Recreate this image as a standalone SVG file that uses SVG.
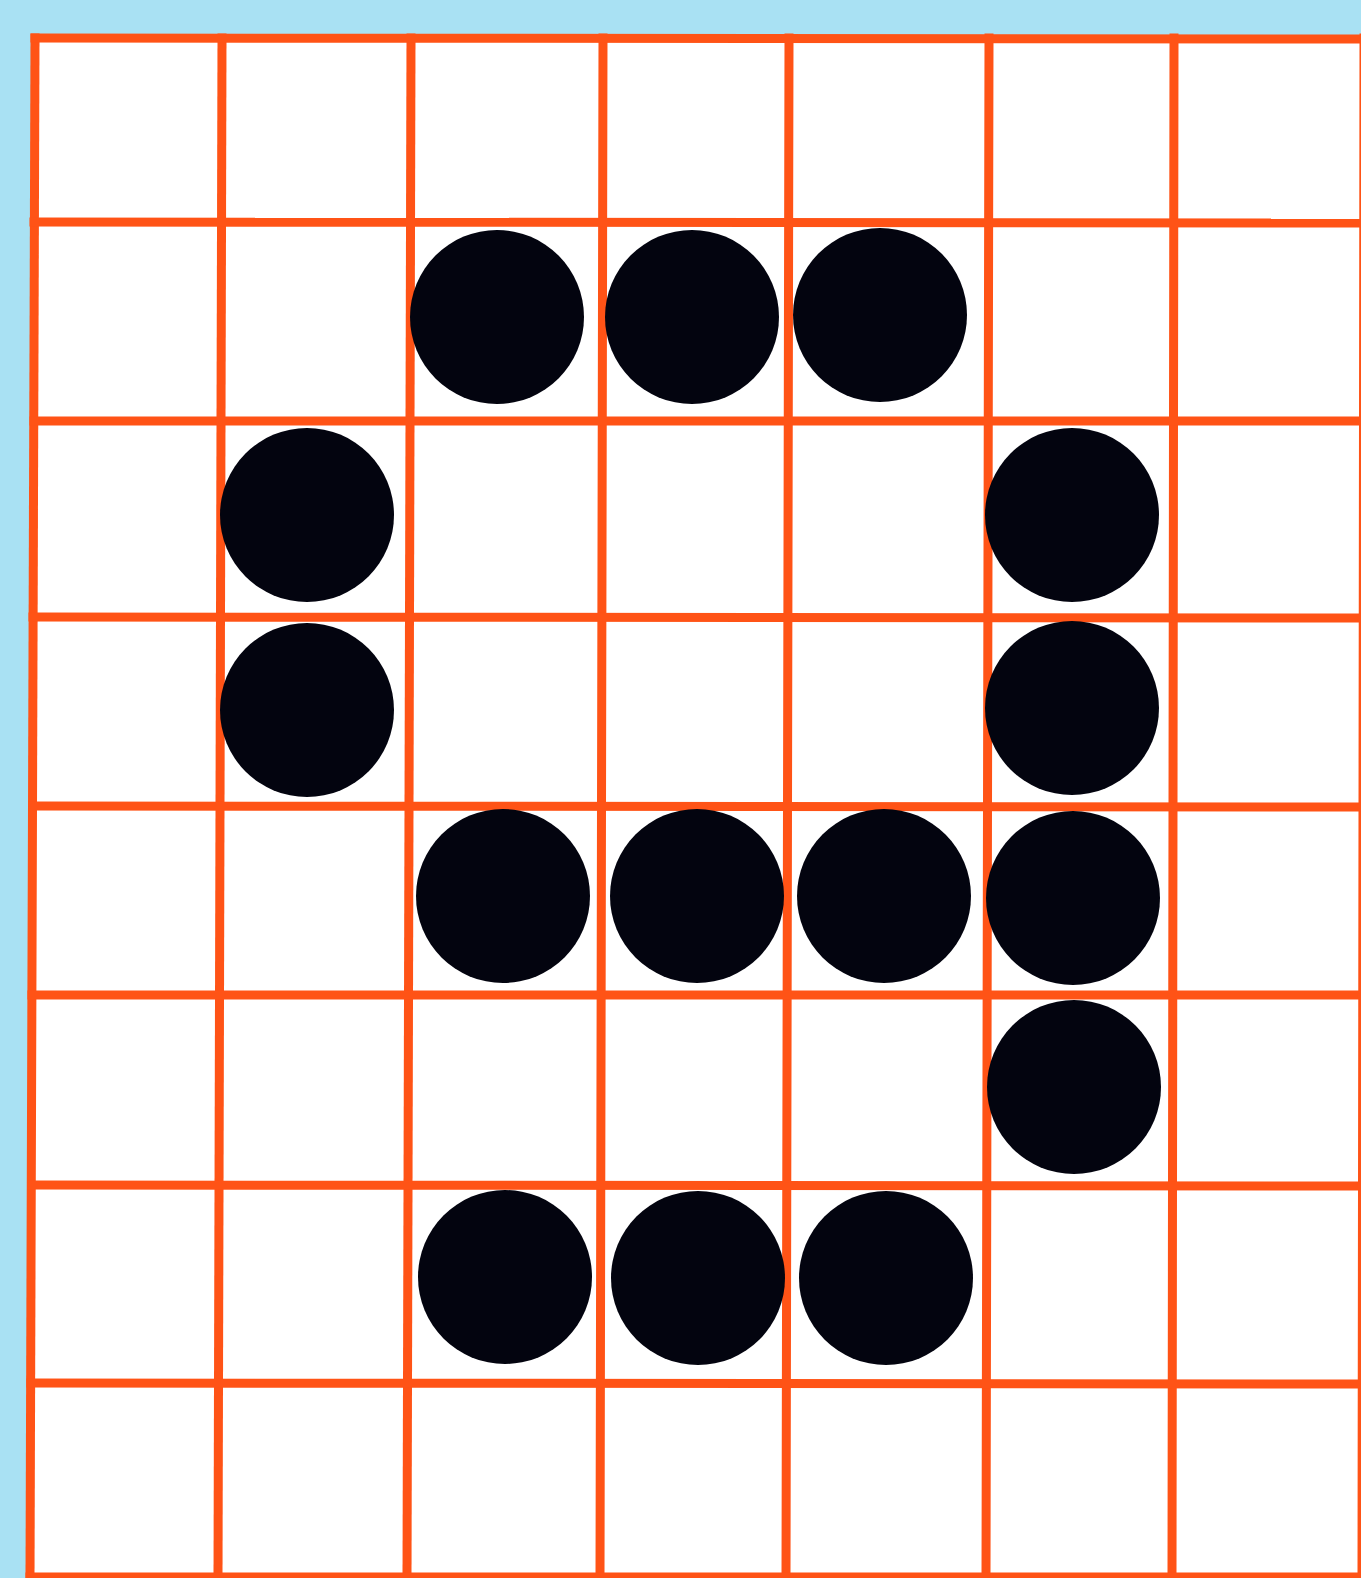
<svg xmlns="http://www.w3.org/2000/svg" width="1361" height="1578" viewBox="0 0 1361 1578">
  <style>
    .bg { fill: #a9e1f3; }
    .paper { fill: #ffffff; }
    .grid line { stroke: #ff5316; stroke-width: 9; stroke-linecap: square; }
    .dot { fill: #03040f; }
  </style>
  <rect class="bg" x="0" y="0" width="1361" height="1578"/>
  <polygon class="paper" points="35,38 1361,38 1361,1578 30,1578"/>
  <g id="grid" class="grid">
    <line x1="35" y1="38" x2="30" y2="1578"/>
    <line x1="222" y1="38" x2="218" y2="1578"/>
    <line x1="411" y1="38" x2="407" y2="1578"/>
    <line x1="603" y1="38" x2="600" y2="1578"/>
    <line x1="789" y1="38" x2="786" y2="1578"/>
    <line x1="989" y1="38" x2="986" y2="1578"/>
    <line x1="1174" y1="38" x2="1172" y2="1578"/>
    <line x1="1364" y1="38" x2="1362" y2="1578"/>
    <line x1="35" y1="38" x2="1361" y2="39"/>
    <line x1="34" y1="222" x2="1361" y2="223"/>
    <line x1="34" y1="421" x2="1361" y2="421"/>
    <line x1="33" y1="617" x2="1361" y2="618"/>
    <line x1="33" y1="806" x2="1361" y2="807"/>
    <line x1="32" y1="995" x2="1361" y2="995"/>
    <line x1="32" y1="1185" x2="1361" y2="1186"/>
    <line x1="31" y1="1383" x2="1361" y2="1384"/>
    <line x1="30" y1="1577" x2="1361" y2="1577"/>
  </g>
  <g id="dots">
    <circle id="d1" class="dot" cx="497" cy="317" r="87"/>
    <circle id="d2" class="dot" cx="692" cy="317" r="87"/>
    <circle id="d3" class="dot" cx="880" cy="315" r="87"/>
    <circle id="d4" class="dot" cx="307" cy="515" r="87"/>
    <circle id="d5" class="dot" cx="1072" cy="515" r="87"/>
    <circle id="d6" class="dot" cx="307" cy="710" r="87"/>
    <circle id="d7" class="dot" cx="1072" cy="708" r="87"/>
    <circle id="d8" class="dot" cx="503" cy="896" r="87"/>
    <circle id="d9" class="dot" cx="697" cy="896" r="87"/>
    <circle id="d10" class="dot" cx="884" cy="896" r="87"/>
    <circle id="d11" class="dot" cx="1073" cy="898" r="87"/>
    <circle id="d12" class="dot" cx="1074" cy="1087" r="87"/>
    <circle id="d13" class="dot" cx="505" cy="1277" r="87"/>
    <circle id="d14" class="dot" cx="698" cy="1278" r="87"/>
    <circle id="d15" class="dot" cx="886" cy="1278" r="87"/>
  </g>
</svg>
